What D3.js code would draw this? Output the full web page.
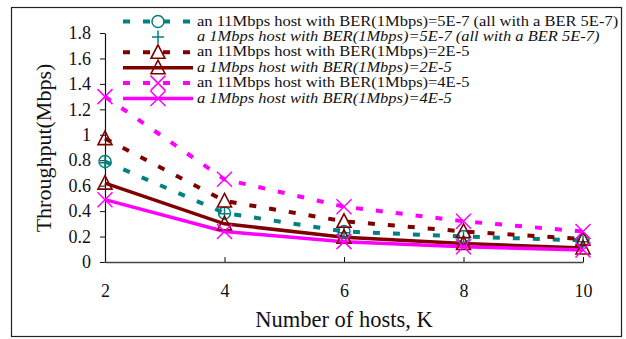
<!DOCTYPE html>
<html>
<head>
<meta charset="utf-8">
<script src="https://cdn.jsdelivr.net/npm/d3@7"></script>
<style>
  body { margin: 0; background: #fff; }
</style>
</head>
<body>
<svg id="chart"></svg>
<script>
const hosts = [2, 4, 6, 8, 10];
const yTicks = [0, 0.2, 0.4, 0.6, 0.8, 1, 1.2, 1.4, 1.6, 1.8];

const fast5e7 = [0.79, 0.385, 0.24, 0.20, 0.17];
const slow5e7 = [0.78, 0.38, 0.23, 0.19, 0.16];
const fast2e5 = [0.97, 0.48, 0.32, 0.24, 0.18];
const slow2e5 = [0.62, 0.30, 0.195, 0.145, 0.11];
const fast4e5 = [1.30, 0.65, 0.435, 0.32, 0.24];
const slow4e5 = [0.49, 0.24, 0.16, 0.12, 0.095];

const seriesNames = [
  'an 11Mbps host with BER(1Mbps)=5E-7 (all with a BER 5E-7)',
  'a 1Mbps host with BER(1Mbps)=5E-7 (all with a BER 5E-7)',
  'an 11Mbps host with BER(1Mbps)=2E-5',
  'a 1Mbps host with BER(1Mbps)=2E-5',
  'an 11Mbps host with BER(1Mbps)=4E-5',
  'a 1Mbps host with BER(1Mbps)=4E-5'
];

const series = [
  { name: seriesNames[0], values: fast5e7, color: '#008080', line: 'dash', marker: 'circle', italic: false },
  { name: seriesNames[1], values: slow5e7, color: '#008080', line: 'none', marker: 'plus', italic: true },
  { name: seriesNames[2], values: fast2e5, color: '#800000', line: 'dash', marker: 'triangle', italic: false },
  { name: seriesNames[3], values: slow2e5, color: '#800000', line: 'solid', marker: 'triangle', italic: true },
  { name: seriesNames[4], values: fast4e5, color: '#ff00ff', line: 'dash', marker: 'cross', italic: false },
  { name: seriesNames[5], values: slow4e5, color: '#ff00ff', line: 'solid', marker: 'cross', italic: true }
];

const FONT = 'Liberation Serif';

const width = 626, height = 339;
const margin = { top: 33, right: 43, bottom: 77, left: 105 };

const svg = d3.select('#chart').attr('width', width).attr('height', height);

// outer frame
svg.append('rect')
  .attr('x', 11.5).attr('y', 7.5)
  .attr('width', 610).attr('height', 329)
  .attr('fill', 'none').attr('stroke', '#222').attr('stroke-width', 1.2);

const x = d3.scaleLinear().domain([2, 10]).range([margin.left, width - margin.right]);
const y = d3.scaleLinear().domain([0, 1.8]).range([height - margin.bottom, margin.top]);

// axes
svg.append('g')
  .attr('transform', `translate(0,${y(0)})`)
  .call(d3.axisBottom(x).tickValues(hosts).tickSize(-5).tickPadding(22).tickSizeOuter(0))
  .call(g => g.attr('font-family', FONT).attr('font-size', 18))
  .call(g => g.select('.domain').attr('stroke', '#444').attr('stroke-width', 1.5))
  .call(g => g.selectAll('.tick line').attr('stroke', '#111'))
  .call(g => g.selectAll('text').attr('fill', '#111'));

svg.append('g')
  .attr('transform', `translate(${x(2)},0)`)
  .call(d3.axisLeft(y).tickValues(yTicks).tickFormat(d3.format('')).tickSize(5).tickPadding(9).tickSizeOuter(0))
  .call(g => g.attr('font-family', FONT).attr('font-size', 18))
  .call(g => g.select('.domain').attr('stroke', '#111').attr('stroke-width', 1.2))
  .call(g => g.selectAll('.tick line').attr('stroke', '#111'))
  .call(g => g.selectAll('text').attr('fill', '#111'));

svg.append('text')
  .attr('x', 344).attr('y', 327)
  .attr('text-anchor', 'middle')
  .attr('font-family', FONT).attr('font-size', 22.5)
  .attr('fill', '#111')
  .text('Number of hosts, K');

svg.append('text')
  .attr('transform', 'translate(51,148) rotate(-90)')
  .attr('text-anchor', 'middle')
  .attr('font-family', FONT).attr('font-size', 22)
  .attr('fill', '#111')
  .text('Throughput(Mbps)');

function drawMarker(g, type, color) {
  if (type === 'circle') {
    g.append('circle').attr('r', 6).attr('fill', 'none').attr('stroke', color).attr('stroke-width', 1.5);
  } else if (type === 'plus') {
    g.append('path').attr('d', 'M-6,0H6M0,-6.5V6.5').attr('stroke', color).attr('stroke-width', 1.5);
  } else if (type === 'triangle') {
    g.append('path').attr('d', 'M0,-7.5L7,6H-7Z').attr('fill', 'none').attr('stroke', color).attr('stroke-width', 1.6);
  } else if (type === 'cross') {
    g.append('path').attr('d', 'M-7.5,-7.5L7.5,7.5M-7.5,7.5L7.5,-7.5').attr('stroke', color).attr('stroke-width', 1.5);
  }
}

const line = d3.line().x((d, i) => x(hosts[i])).y(d => y(d));

// lines first, then markers on top
series.forEach(s => {
  if (s.line === 'none') return;
  svg.append('path')
    .datum(s.values)
    .attr('d', line)
    .attr('fill', 'none')
    .attr('stroke', s.color)
    .attr('stroke-width', s.line === 'dash' ? 4 : 3.5)
    .attr('stroke-dasharray', s.line === 'dash' ? '7,13' : null);
});

series.forEach(s => {
  s.values.forEach((v, i) => {
    const g = svg.append('g').attr('transform', `translate(${x(hosts[i])},${y(v)})`);
    drawMarker(g, s.marker, s.color);
  });
});

// legend (text is a bit wide in the original, so stretch it horizontally)
const legend = svg.append('g').attr('transform', 'translate(123,21.5)');
const rowH = 15.4;
const stretch = 1.1;
series.forEach((s, i) => {
  const row = legend.append('g').attr('transform', `translate(0,${i * rowH})`);
  if (s.line !== 'none') {
    row.append('line')
      .attr('x1', 0).attr('x2', 70).attr('y1', 0).attr('y2', 0)
      .attr('stroke', s.color)
      .attr('stroke-width', s.line === 'dash' ? 4 : 3.5)
      .attr('stroke-dasharray', s.line === 'dash' ? '7,13' : null);
  }
  drawMarker(row.append('g').attr('transform', 'translate(35,0)'), s.marker, s.color);
  row.append('text')
    .attr('transform', `translate(74,4) scale(${stretch},1)`)
    .attr('font-family', FONT).attr('font-size', 15)
    .attr('font-style', s.italic ? 'italic' : 'normal')
    .attr('fill', '#111')
    .text(s.name);
});
</script>
</body>
</html>
